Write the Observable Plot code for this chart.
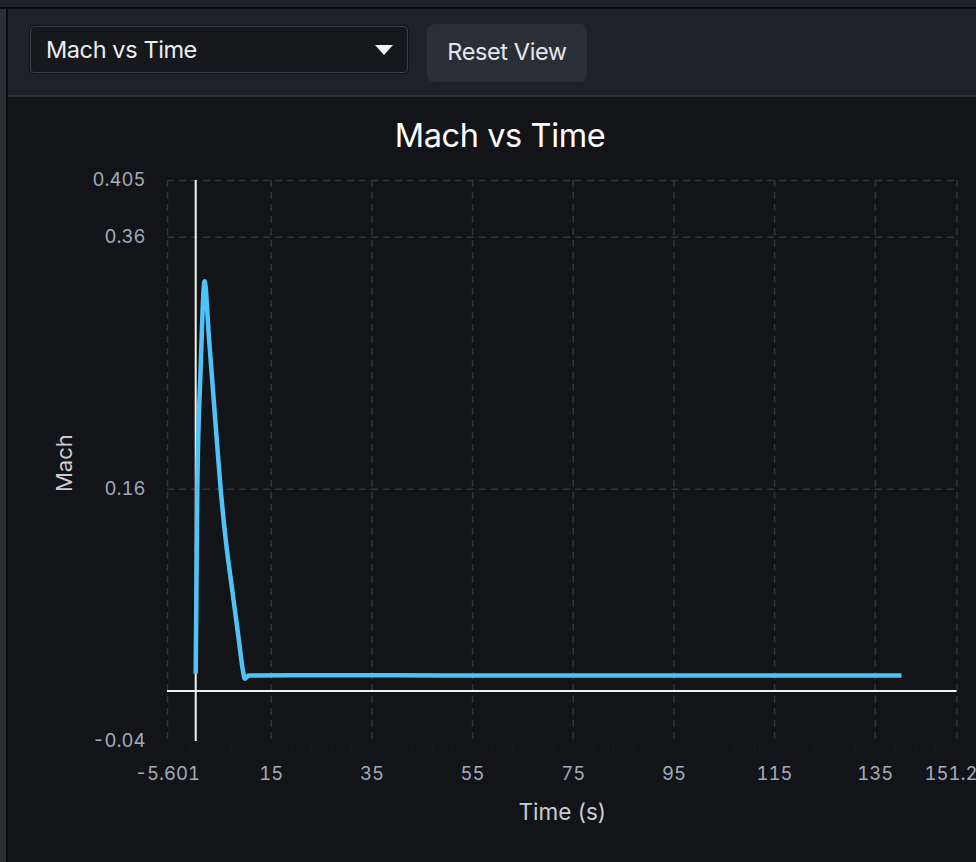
<!DOCTYPE html>
<html>
<head>
<meta charset="utf-8">
<script src="https://cdn.jsdelivr.net/npm/d3@7"></script>
<script src="https://cdn.jsdelivr.net/npm/@observablehq/plot@0.6"></script>
<style>
  html, body { margin: 0; padding: 0; width: 976px; height: 862px; overflow: hidden; background: #121418; font-family: Inter, "Noto Sans", sans-serif; }
  #topstrip { position: absolute; left: 0; top: 0; width: 976px; height: 7px; background: #1f2227; }
  #topline { position: absolute; left: 0; top: 7px; width: 976px; height: 2px; background: #0a0b0d; }
  #leftstrip { position: absolute; left: 0; top: 9px; width: 6px; height: 853px; background: #2a2d32; }
  #leftline { position: absolute; left: 6px; top: 9px; width: 2px; height: 853px; background: #0a0b0d; }
  #toolbar { position: absolute; left: 8px; top: 9px; width: 968px; height: 86px; background: #1e2127; border-bottom: 2px solid #2b2f36; }
  #select { position: absolute; left: 30px; top: 26px; width: 376px; height: 45px; background: #16181c; border: 1px solid #3a3e45; border-radius: 4px; box-shadow: 0 0 0 1px #111316; }
  #select span { position: absolute; left: 15px; top: 8px; font-size: 23.5px; color: #eceef1; letter-spacing: -0.4px; }
  #select i { position: absolute; left: 344px; top: 18px; width: 0; height: 0; border-left: 9px solid transparent; border-right: 9px solid transparent; border-top: 10px solid #f2f3f5; }
  #reset { position: absolute; left: 427px; top: 24px; width: 160px; height: 58px; background: #2a2f37; border-radius: 7px; color: #e3e7ec; font-size: 23.5px; line-height: 56px; text-align: center; letter-spacing: -0.4px; }
  #title { position: absolute; left: 0; top: 116px; width: 1000px; text-align: center; font-size: 32.5px; color: #ffffff; letter-spacing: -0.4px; }
  #chart { position: absolute; left: 0; top: 160px; }
</style>
</head>
<body>
<div id="topstrip"></div><div id="topline"></div>
<div id="leftstrip"></div><div id="leftline"></div>
<div id="toolbar"></div>
<div id="select"><span>Mach vs Time</span><i></i></div>
<div id="reset">Reset View</div>
<div id="title">Mach vs Time</div>
<div id="chart"></div>
<script>
// Data
const timeS = [0, 0.32, 0.97, 1.77, 2.62, 3.75, 4.95, 5.98, 7.27, 8.58, 9.38, 9.77, 10.57, 20, 40, 60, 80, 100, 120, 140.2];
const mach  = [0.0137, 0.1606, 0.2544, 0.325, 0.281, 0.222, 0.1606, 0.1195, 0.0798, 0.0402, 0.0163, 0.0098, 0.0124, 0.0125, 0.0125, 0.0124, 0.0124, 0.0124, 0.0123, 0.0123];

const xTicks = [-5.601, 15, 35, 55, 75, 95, 115, 135, 151.23];
const xTickLabels = ["-5.601", "15", "35", "55", "75", "95", "115", "135", "151.23"];
const yTicks = [-0.04, 0.16, 0.36, 0.405];
const yTickLabels = ["-0.04", "0.16", "0.36", "0.405"];
const xMinor = [-1, 3, 7, 11, 19, 23, 27, 31, 39, 43, 47, 51, 59, 63, 67, 71, 79, 83, 87, 91, 99, 103, 107, 111, 119, 123, 127, 131, 139, 143, 147];
const yMinor = [-0.02, 0.0, 0.04, 0.08, 0.12, 0.20, 0.24, 0.28, 0.32];

const xDomain = [-5.601, 151.23];
const yDomain = [-0.04, 0.405];

const data = timeS.map((t, i) => ({t, m: mach[i]}));

const gridColor = "#2e353f";
const tickColor = "#a3abba";

const chart = Plot.plot({
  width: 976,
  height: 700,
  marginLeft: 167,
  marginRight: 19.5,
  marginTop: 20,
  marginBottom: 119,
  style: { background: "transparent", fontFamily: "Inter, 'Noto Sans', sans-serif", overflow: "visible" },
  x: { domain: xDomain },
  y: { domain: yDomain },
  marks: [
    // grid
    Plot.ruleX(xTicks, { x: d => d, stroke: gridColor, strokeWidth: 1.5, strokeDasharray: "7,5" }),
    Plot.ruleY(yTicks.filter(v => v !== -0.04), { y: d => d, stroke: gridColor, strokeWidth: 1.5, strokeDasharray: "7,5" }),
    // faint minor ticks
    Plot.ruleX(xMinor, { x: d => d, y1: -0.04, y2: -0.0505, stroke: "#171a1f", strokeWidth: 1 }),
    Plot.ruleY(yMinor, { y: d => d, x1: xDomain[0] - 1.4, x2: xDomain[0], stroke: "#171a1f", strokeWidth: 1 }),
    // axes (labels only)
    Plot.axisX({ ticks: xTicks, tickFormat: (d, i) => xTickLabels[i], tickSize: 0, tickPadding: 25, fontSize: 18.5, fill: tickColor, label: null }),
    Plot.axisY({ ticks: yTicks, tickFormat: (d, i) => yTickLabels[i], tickSize: 0, tickPadding: 22, fontSize: 18.5, fill: tickColor, label: null }),
    // zero lines
    Plot.ruleY([0], { stroke: "#f2f2f2", strokeWidth: 2 }),
    Plot.ruleX([0], { stroke: "#f2f2f2", strokeWidth: 2 }),
    // series
    Plot.line(data, { x: "t", y: "m", stroke: "#4fc3f7", strokeWidth: 4.5, curve: "monotone-x", strokeLinejoin: "round", strokeLinecap: "butt" }),
    // axis titles
    Plot.text(["Time (s)"], { frameAnchor: "bottom", dy: 78, fontSize: 22.5, fill: "#c9cdd3" }),
    Plot.text(["Mach"], { frameAnchor: "left", dx: -103, dy: 31, rotate: -90, fontSize: 22, fill: "#c9cdd3" })
  ]
});
document.getElementById("chart").appendChild(chart);
</script>
</body>
</html>
